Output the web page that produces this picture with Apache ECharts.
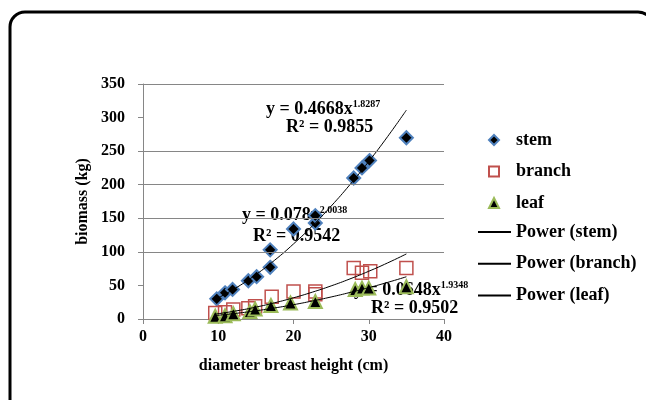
<!DOCTYPE html>
<html>
<head>
<meta charset="utf-8">
<script src="https://cdn.jsdelivr.net/npm/echarts@6/dist/echarts.min.js"></script>
<style>html,body{margin:0;padding:0;background:#fff}#c{width:646px;height:400px}</style>
</head>
<body>
<div id="c"></div>
<script>
// ---- data ----
var stemX = [9.8, 10.9, 11.9, 14, 15.1, 16.9, 16.9, 20, 22.9, 22.9, 28, 29.1, 30.1, 35];
var stemY = [30, 39, 44, 57, 63, 77, 103, 134, 143, 154, 210, 225, 236, 270];
var branchX = [9.6, 10.9, 12, 14, 14.9, 17.1, 20, 22.9, 22.9, 28, 29.1, 30.2, 35];
var branchY = [9, 10, 14, 16, 19, 33, 41, 41, 37, 76, 69, 71, 76];
var leafX = [9.6, 10.9, 12, 14.2, 14.9, 17, 19.6, 22.9, 28.2, 29.1, 30, 35];
var leafY = [4, 5, 8, 11, 15, 20, 24, 26, 44, 46, 46, 48];

// trendline (power fit) values
var trendStemX = [9.8, 12.5, 15, 17.5, 20, 22.5, 25, 27.5, 30, 32.5, 35];
var trendStemY = [30.3, 47.3, 66.1, 87.6, 111.8, 138.6, 168.1, 200.1, 234.6, 271.6, 311.1];
var trendBranchX = [9.6, 12.5, 15, 17.5, 20, 22.5, 25, 27.5, 30, 32.5, 35];
var trendBranchY = [7.25, 12.3, 17.7, 24.15, 31.6, 39.96, 49.3, 59.7, 71.1, 83.5, 96.9];
var trendLeafX = [9.6, 12.5, 15, 17.5, 20, 22.5, 25, 27.5, 30, 32.5, 35];
var trendLeafY = [5.15, 8.59, 12.2, 16.47, 21.3, 26.8, 32.8, 39.5, 46.7, 54.5, 62.9];

var gridValues = [100, 150, 200, 250, 350];
var xTicks = {min: 0, max: 40, interval: 10};
var yTicks = {min: 0, max: 350, interval: 50};

function pairs(xs, ys) { return xs.map(function (x, i) { return [x, ys[i]]; }); }

var FONT = "'Liberation Serif', 'Times New Roman', serif";
var GRAY = '#868686';

var chart = echarts.init(document.getElementById('c'), null, {renderer: 'canvas'});

function eqText(left, top, main, sup) {
  return {
    type: 'text', left: left, top: top, z: 0,
    style: {
      text: '{m|' + main + '}' + (sup ? '{s|' + sup + '}' : ''),
      rich: {
        m: {fontFamily: FONT, fontWeight: 'bold', fontSize: 18, lineHeight: 20, fill: '#000'},
        s: {fontFamily: FONT, fontWeight: 'bold', fontSize: 10, lineHeight: 20, verticalAlign: 'top', fill: '#000'}
      }
    }
  };
}

var option = {
  animation: false,
  backgroundColor: '#fff',
  grid: {left: 143, right: 202, top: 84, bottom: 81},
  xAxis: {
    type: 'value', min: xTicks.min, max: xTicks.max, interval: xTicks.interval,
    name: 'diameter breast height (cm)', nameLocation: 'middle', nameGap: 39,
    nameTextStyle: {fontFamily: FONT, fontWeight: 'bold', fontSize: 16, color: '#000'},
    axisLine: {show: true, lineStyle: {color: GRAY, width: 1}},
    axisTick: {show: true, length: 5, lineStyle: {color: GRAY}},
    axisLabel: {fontFamily: FONT, fontWeight: 'bold', fontSize: 16, color: '#000', margin: 10},
    splitLine: {show: false}
  },
  yAxis: {
    type: 'value', min: yTicks.min, max: yTicks.max, interval: yTicks.interval,
    name: 'biomass (kg)', nameLocation: 'middle', nameGap: 52,
    nameTextStyle: {fontFamily: FONT, fontWeight: 'bold', fontSize: 16, color: '#000'},
    axisLine: {show: true, lineStyle: {color: GRAY, width: 1}},
    axisTick: {show: true, length: 5, lineStyle: {color: GRAY}},
    axisLabel: {fontFamily: FONT, fontWeight: 'bold', fontSize: 16, color: '#000', margin: 18},
    splitLine: {show: false}
  },
  legend: [{
    orient: 'vertical', left: 483, top: 126, itemWidth: 10, itemHeight: 10, itemGap: 13.5,
    data: ['stem', 'branch', 'leaf'],
    textStyle: {fontFamily: FONT, fontWeight: 'bold', fontSize: 18, color: '#000', padding: [0, 0, 0, 12]}
  }, {
    orient: 'vertical', left: 472, top: 218, itemWidth: 33, itemHeight: 14, itemGap: 13.7,
    data: ['Power (stem)', 'Power (branch)', 'Power (leaf)'],
    itemStyle: {opacity: 0},
    textStyle: {fontFamily: FONT, fontWeight: 'bold', fontSize: 18, color: '#000'}
  }],
  graphic: [
    {type: 'rect', z: 100, silent: true,
     shape: {x: 10, y: 12, width: 643, height: 420, r: 15},
     style: {fill: 'none', stroke: '#000', lineWidth: 3}},
    eqText(266, 99, 'y = 0.4668x', '1.8287'),
    eqText(286, 118, 'R² = 0.9855'),
    eqText(242, 205, 'y = 0.078x', '2.0038'),
    eqText(253, 227, 'R² = 0.9542'),
    eqText(354, 280, 'y = 0.0648x', '1.9348'),
    eqText(371, 299, 'R² = 0.9502')
  ],
  series: [
    {type: 'scatter', name: '_grid', data: [], z: 1, silent: true,
     markLine: {silent: true, symbol: 'none', label: {show: false},
       lineStyle: {color: GRAY, type: 'solid', width: 1},
       data: gridValues.map(function (v) { return {yAxis: v}; })}},
    {type: 'scatter', name: 'stem', data: pairs(stemX, stemY), symbol: 'diamond', symbolSize: 13, z: 3,
     itemStyle: {color: '#000', borderColor: '#4f81bd', borderWidth: 2, opacity: 1}},
    {type: 'scatter', name: 'branch', data: pairs(branchX, branchY), symbol: 'rect', symbolSize: 13, z: 3,
     itemStyle: {color: 'rgba(255,255,255,0)', borderColor: '#c0504d', borderWidth: 1.5, opacity: 1}},
    {type: 'scatter', name: 'leaf', data: pairs(leafX, leafY), symbol: 'triangle', symbolSize: 13, z: 3,
     itemStyle: {color: '#000', borderColor: '#9bbb59', borderWidth: 2, opacity: 1}},
    {type: 'line', name: 'Power (stem)', data: pairs(trendStemX, trendStemY), smooth: true,
     symbol: 'none', showSymbol: false, z: 4, lineStyle: {color: '#000', width: 1}, itemStyle: {color: '#000'}},
    {type: 'line', name: 'Power (branch)', data: pairs(trendBranchX, trendBranchY), smooth: true,
     symbol: 'none', showSymbol: false, z: 4, lineStyle: {color: '#000', width: 1}, itemStyle: {color: '#000'}},
    {type: 'line', name: 'Power (leaf)', data: pairs(trendLeafX, trendLeafY), smooth: true,
     symbol: 'none', showSymbol: false, z: 4, lineStyle: {color: '#000', width: 1}, itemStyle: {color: '#000'}}
  ]
};
chart.setOption(option);
</script>
</body>
</html>
